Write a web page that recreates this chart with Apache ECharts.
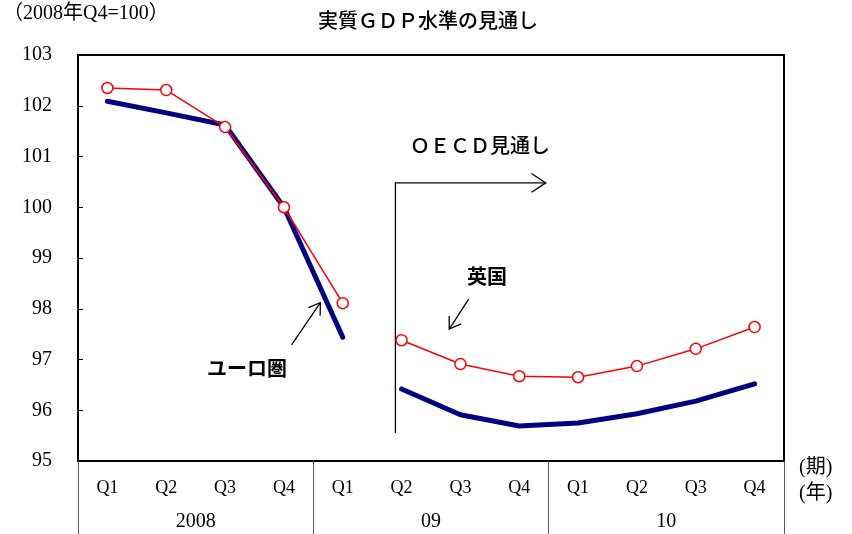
<!DOCTYPE html>
<html><head><meta charset="utf-8">
<script src="https://cdn.jsdelivr.net/npm/echarts@6/dist/echarts.min.js"></script>
<style>html,body{margin:0;padding:0;background:#fff}#c{width:852px;height:534px}</style>
</head><body><div id="c"></div>
<script>
const quarters = ['Q1','Q2','Q3','Q4','Q1','Q2','Q3','Q4','Q1','Q2','Q3','Q4'];
const years = ['2008','09','10'];
const ukValues = [102.35, 102.31, 101.58, 100.0, 98.11, 97.38, 96.91, 96.67, 96.65, 96.87, 97.21, 97.64];
const euroValues = [102.09, 101.86, 101.62, 100.0, 97.44, 96.42, 95.91, 95.69, 95.75, 95.93, 96.18, 96.52];
const historyEnd = 4; // last actual quarter index (2009 Q1)
const yTicks = [95, 96, 97, 98, 99, 100, 101, 102, 103];

function part(arr, from, to) {
  return arr.map((v, i) => (i >= from && i <= to) ? v : '-');
}

const serif = '"Liberation Serif", "DejaVu Serif", "Noto Sans CJK JP", serif';
const gothic = '"Noto Sans CJK JP", "Noto Sans", sans-serif';

const chart = echarts.init(document.getElementById('c'));
const euroStyle = {
  type: 'line', symbol: 'none', xAxisIndex: 0,
  lineStyle: { color: '#000080', width: 5, cap: 'round', join: 'round' },
  z: 2, animation: false
};
const ukStyle = {
  type: 'line', symbol: 'circle', symbolSize: 11, xAxisIndex: 0,
  itemStyle: { color: '#fff', borderColor: '#ff0000', borderWidth: 1.5 },
  lineStyle: { color: '#ff0000', width: 1.5 },
  z: 3, animation: false
};

chart.setOption({
  animation: false,
  grid: { left: 78, right: 68, top: 55, bottom: 73, show: true, borderColor: '#000', borderWidth: 2, backgroundColor: 'transparent' },
  xAxis: [
    {
      type: 'category', data: quarters, boundaryGap: true, position: 'bottom',
      axisLine: { lineStyle: { color: '#000', width: 2 } },
      axisTick: { show: false },
      axisLabel: { interval: 0, margin: 18, color: '#000', fontFamily: serif, fontSize: 18 }
    },
    {
      type: 'category', data: years, boundaryGap: true, position: 'bottom',
      axisLine: { show: false },
      axisTick: { show: true, length: 74, interval: 0, lineStyle: { color: '#555', width: 1 } },
      axisLabel: { interval: 0, margin: 51, color: '#000', fontFamily: serif, fontSize: 20 }
    }
  ],
  yAxis: {
    type: 'value', min: yTicks[0], max: yTicks[yTicks.length - 1], interval: 1,
    axisLine: { show: true, lineStyle: { color: '#000', width: 2 } },
    axisTick: { show: true, inside: true, length: 5, lineStyle: { color: '#000', width: 1 } },
    splitLine: { show: false },
    axisLabel: { margin: 26, color: '#000', fontFamily: serif, fontSize: 20 }
  },
  series: [
    Object.assign({ name: 'ユーロ圏', data: part(euroValues, 0, historyEnd) }, euroStyle),
    Object.assign({ name: 'ユーロ圏見通し', data: part(euroValues, historyEnd + 1, 11) }, euroStyle),
    Object.assign({ name: '英国', data: part(ukValues, 0, historyEnd) }, ukStyle),
    Object.assign({ name: '英国見通し', data: part(ukValues, historyEnd + 1, 11) }, ukStyle)
  ]
});

// data-space -> pixel, interpolating between category slots for fractional indices
function px(x, y) {
  const i0 = Math.floor(x), i1 = i0 + 1, t = x - i0;
  const p0 = chart.convertToPixel({ xAxisIndex: 0, yAxisIndex: 0 }, [i0, y]);
  const p1 = chart.convertToPixel({ xAxisIndex: 0, yAxisIndex: 0 }, [i1, y]);
  return [p0[0] + (p1[0] - p0[0]) * t, p0[1]];
}
// annotation anchors in data space (category index, value)
const oecdBottom = px(4.895, 95.55), oecdTop = px(4.895, 100.48), oecdEnd = px(7.45, 100.48);
const euroFrom = px(3.13, 97.29), euroTo = px(3.62, 98.12);
const ukFrom = px(6.14, 98.19), ukTo = px(5.81, 97.6);

function arrowHead(tip, from, len) {
  const ang = Math.atan2(tip[1] - from[1], tip[0] - from[0]);
  const a1 = ang + Math.PI - 0.58, a2 = ang + Math.PI + 0.58;
  return [[tip[0] + len * Math.cos(a1), tip[1] + len * Math.sin(a1)], tip, [tip[0] + len * Math.cos(a2), tip[1] + len * Math.sin(a2)]];
}
const lineSt = { stroke: '#000', lineWidth: 1.3, fill: null };

chart.setOption({
  graphic: [
    { type: 'text', x: 3, y: 14, style: { text: '（2008年Q4=100）', font: '20px ' + serif, fill: '#000', verticalAlign: 'middle' } },
    { type: 'text', x: 428, y: 20, style: { text: '実質ＧＤＰ水準の見通し', font: '500 20px ' + gothic, fill: '#000', align: 'center', verticalAlign: 'middle' } },
    { type: 'text', x: 799, y: 468, style: { text: '(期)', font: '20px ' + serif, fill: '#000', verticalAlign: 'middle' } },
    { type: 'text', x: 799, y: 494, style: { text: '(年)', font: '20px ' + serif, fill: '#000', verticalAlign: 'middle' } },
    { type: 'text', x: 480, y: 145, style: { text: 'ＯＥＣＤ見通し', font: '500 20px ' + gothic, fill: '#000', align: 'center', verticalAlign: 'middle' } },
    { type: 'polyline', shape: { points: [oecdBottom, oecdTop, oecdEnd] }, style: lineSt },
    { type: 'polyline', shape: { points: arrowHead(oecdEnd, oecdTop, 17) }, style: lineSt },
    { type: 'text', x: 247, y: 368, style: { text: 'ユーロ圏', font: 'bold 20px ' + gothic, fill: '#000', align: 'center', verticalAlign: 'middle' } },
    { type: 'line', shape: { x1: euroFrom[0], y1: euroFrom[1], x2: euroTo[0], y2: euroTo[1] }, style: lineSt },
    { type: 'polyline', shape: { points: arrowHead(euroTo, euroFrom, 13) }, style: lineSt },
    { type: 'text', x: 487, y: 276, style: { text: '英国', font: 'bold 20px ' + gothic, fill: '#000', align: 'center', verticalAlign: 'middle' } },
    { type: 'line', shape: { x1: ukFrom[0], y1: ukFrom[1], x2: ukTo[0], y2: ukTo[1] }, style: lineSt },
    { type: 'polyline', shape: { points: arrowHead(ukTo, ukFrom, 13) }, style: lineSt }
  ]
});
</script></body></html>
